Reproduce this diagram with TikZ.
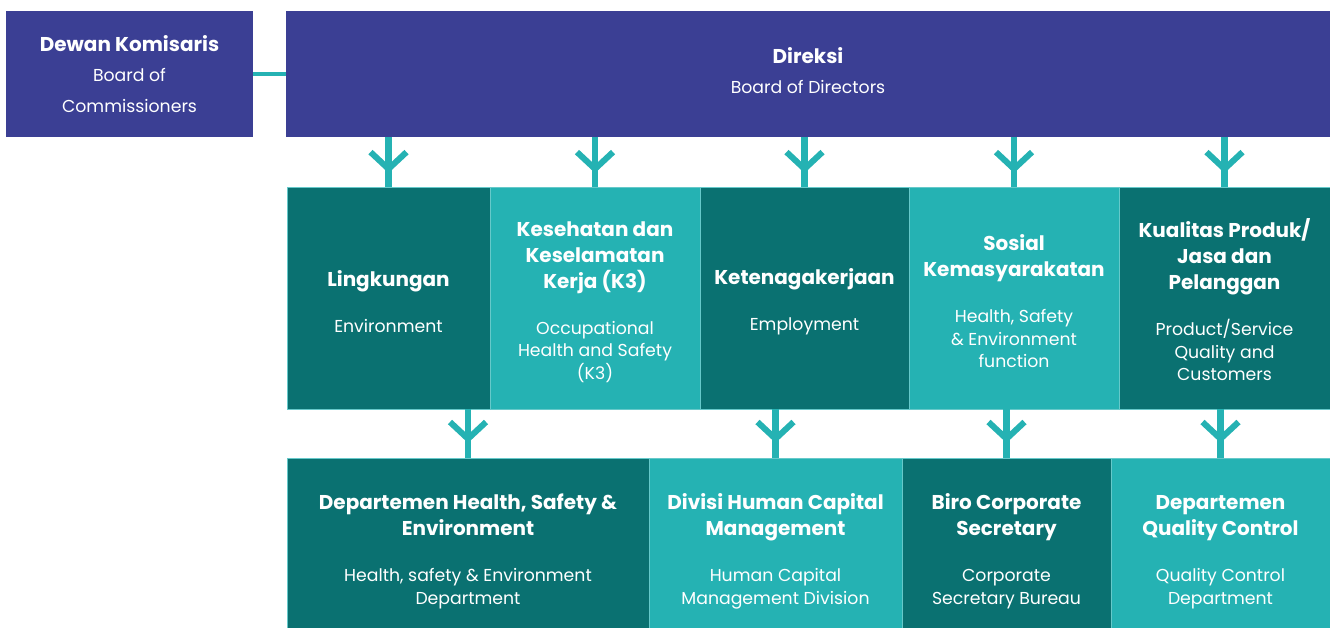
\documentclass[tikz,border=0pt]{standalone}
\usepackage{fontspec}
\setmainfont{Poppins}
\usetikzlibrary{decorations.markings}

\definecolor{boardblue}{RGB}{59,63,148}
\definecolor{darkteal}{RGB}{10,113,113}
\definecolor{lightteal}{RGB}{37,178,179}

\newcommand{\hd}[2][0pt]{{\fontsize{14.2}{16}\selectfont\bfseries\rule{0pt}{#1}#2}}
\newcommand{\sub}[1]{{#1}}

\tikzset{
  box/.style={rectangle, fill=#1, draw=lightteal!70!white, line width=0.4pt,
    text=white, align=center, inner sep=0pt, font=\fontsize{12.3}{16}\selectfont},
  link/.style={draw=lightteal, line width=4.3pt, postaction={decorate},
    decoration={markings, mark=at position #1 with {
      \draw[lightteal, line width=4.3pt, line join=miter] (-0.42cm,0.45cm) -- (0,0) -- (-0.42cm,-0.45cm);}}}
}

\begin{document}
\begin{tikzpicture}[x=0.025cm, y=-0.025cm]
\useasboundingbox (0,0) rectangle (1330,628);

% top level
\node[box=boardblue, draw=none, minimum width=6.175cm, minimum height=3.15cm] (dk) at (129.5,74)
  {\hd{Dewan Komisaris}\\[5.8pt]\sub{Board of}\\[5.8pt]\sub{Commissioners}};
\node[box=boardblue, draw=none, minimum width=26.1cm, minimum height=3.15cm] (dir) at (808,74)
  {\hd{Direksi}\\[5.3pt]\sub{Board of Directors}\rule[-4.5pt]{0pt}{4.5pt}};

% middle row
\node[box=darkteal, minimum width=5.075cm, minimum height=5.55cm] (m1) at (388.5,298)
  {\hd[16.2pt]{Lingkungan}\\[16.7pt]\sub{Environment}};
\node[box=lightteal, minimum width=5.25cm, minimum height=5.55cm] (m2) at (595,298)
  {\hd[16.2pt]{Kesehatan dan}\\[2.5pt]\hd{Keselamatan}\\[2.5pt]\hd{Kerja (K3)}\\[16.7pt]\sub{Occupational}\\\sub{Health and Safety}\\\sub{(K3)}};
\node[box=darkteal, minimum width=5.225cm, minimum height=5.55cm] (m3) at (804.5,298)
  {\hd[16.2pt]{Ketenagakerjaan}\\[16.7pt]\sub{Employment}};
\node[box=lightteal, minimum width=5.25cm, minimum height=5.55cm] (m4) at (1014,298)
  {\hd[16.2pt]{Sosial}\\[2.5pt]\hd{Kemasyarakatan}\\[16.7pt]\sub{Health, Safety}\\\sub{\& Environment}\\\sub{function}};
\node[box=darkteal, minimum width=5.275cm, minimum height=5.55cm] (m5) at (1224.5,298)
  {\hd[16.2pt]{Kualitas Produk/}\\[2.5pt]\hd{Jasa dan}\\[2.5pt]\hd{Pelanggan}\\[16.7pt]\sub{Product/Service}\\\sub{Quality and}\\\sub{Customers}};

% bottom row
\node[box=darkteal, minimum width=9.05cm, minimum height=4.25cm] (b1) at (468,543)
  {\hd[23.3pt]{Departemen Health, Safety \&}\\[2.5pt]\hd{Environment}\\[16.7pt]\sub{Health, safety \& Environment}\\\sub{Department}};
\node[box=lightteal, minimum width=6.325cm, minimum height=4.25cm] (b2) at (775.5,543)
  {\hd[23.3pt]{Divisi Human Capital}\\[2.5pt]\hd{Management}\\[16.7pt]\sub{Human Capital}\\\sub{Management Division}};
\node[box=darkteal, minimum width=5.225cm, minimum height=4.25cm] (b3) at (1006.5,543)
  {\hd[23.3pt]{Biro Corporate}\\[2.5pt]\hd{Secretary}\\[16.7pt]\sub{Corporate}\\\sub{Secretary Bureau}};
\node[box=lightteal, minimum width=5.475cm, minimum height=4.25cm] (b4) at (1220.5,543)
  {\hd[23.3pt]{Departemen}\\[2.5pt]\hd{Quality Control}\\[16.7pt]\sub{Quality Control}\\\sub{Department}};

% connectors
\draw[lightteal, line width=3.5pt] (dk.east) -- (dir.west);
\foreach \m in {m1,m2,m3,m4,m5}
  \draw[link=0.64] (dir.south -| \m.north) -- (\m.north);
\draw[link=0.61] (m1.south -| b1.north) -- (b1.north);
\draw[link=0.61] (m3.south -| b2.north) -- (b2.north);
\draw[link=0.61] (m4.south -| b3.north) -- (b3.north);
\draw[link=0.61] (m5.south -| b4.north) -- (b4.north);
\end{tikzpicture}
\end{document}
